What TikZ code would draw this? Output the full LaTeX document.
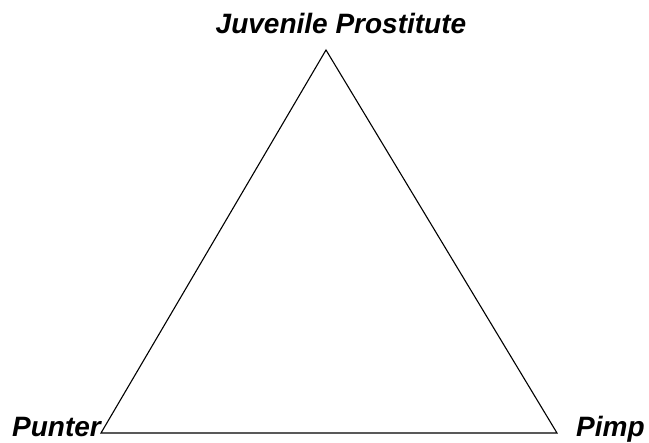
\documentclass[tikz,border=0pt]{standalone}
\usepackage{fontspec}
\setmainfont{Liberation Sans}
\begin{document}
\begin{tikzpicture}[x=1pt,y=-1pt,
  lbl/.style={font=\fontsize{28}{31}\selectfont\bfseries\itshape, inner sep=0pt},
  edge/.style={draw=black, line width=1.1pt, line join=miter}]
\useasboundingbox (0,0) rectangle (649,443);
\coordinate (top) at (326,50);
\coordinate (bl) at (101,433);
\coordinate (br) at (557,433);
\draw[edge] (top) -- (bl) -- (br) -- cycle;
\node[lbl, anchor=base] (jp) at (341,34) {Juvenile Prostitute};
\node[lbl, anchor=base east] (pu) at (101,437) {Punter};
\node[lbl, anchor=base west] (pi) at (576,437) {Pimp};
\end{tikzpicture}
\end{document}
